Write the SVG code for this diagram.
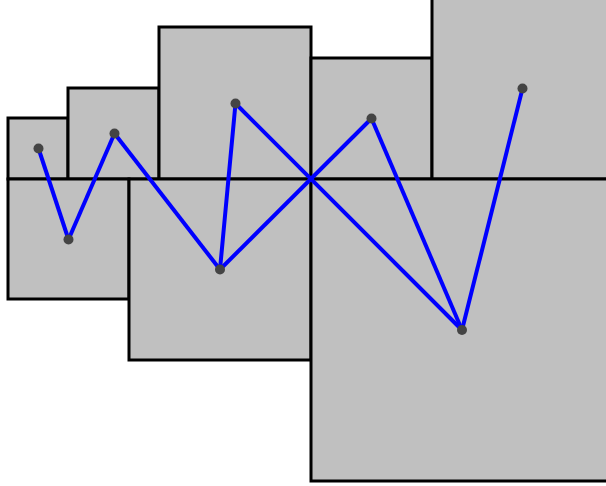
<svg xmlns="http://www.w3.org/2000/svg" width="606" height="486" viewBox="0 0 606 486">
<style>
.box{fill:#c0c0c0;stroke:#000;stroke-width:3}
.edge{stroke:#0000ff;stroke-width:4;fill:none}
.pt{fill:#444}
</style>
<rect width="606" height="486" fill="#fff"/>
<g id="rect-a"><rect class="box" x="8" y="118" width="60" height="61"/></g>
<g id="rect-b"><rect class="box" x="68" y="88" width="91" height="91"/></g>
<g id="rect-c"><rect class="box" x="159" y="27" width="152" height="152"/></g>
<g id="rect-d"><rect class="box" x="311" y="58" width="121" height="121"/></g>
<g id="rect-e"><rect class="box" x="432" y="-10" width="200" height="189"/></g>
<g id="rect-f"><rect class="box" x="8" y="179" width="121" height="120"/></g>
<g id="rect-g"><rect class="box" x="129" y="179" width="182" height="181"/></g>
<g id="rect-h"><rect class="box" x="311" y="179" width="320" height="302"/></g>
<g id="connectors">
<line class="edge" x1="38.5" y1="148.5" x2="68.5" y2="239.5"/>
<line class="edge" x1="68.5" y1="239.5" x2="114.5" y2="133.5"/>
<line class="edge" x1="114.5" y1="133.5" x2="220" y2="269.5"/>
<line class="edge" x1="220" y1="269.5" x2="235.5" y2="103.5"/>
<line class="edge" x1="235.5" y1="103.5" x2="462" y2="330"/>
<line class="edge" x1="220" y1="269.5" x2="371.5" y2="118.5"/>
<line class="edge" x1="371.5" y1="118.5" x2="462" y2="330"/>
<line class="edge" x1="462" y1="330" x2="522.5" y2="88.5"/>
</g>
<g id="points">
<circle class="pt" cx="38.5" cy="148.5" r="5"/>
<circle class="pt" cx="68.5" cy="239.5" r="5"/>
<circle class="pt" cx="114.5" cy="133.5" r="5"/>
<circle class="pt" cx="220" cy="269.5" r="5"/>
<circle class="pt" cx="235.5" cy="103.5" r="5"/>
<circle class="pt" cx="371.5" cy="118.5" r="5"/>
<circle class="pt" cx="462" cy="330" r="5"/>
<circle class="pt" cx="522.5" cy="88.5" r="5"/>
</g>
</svg>
